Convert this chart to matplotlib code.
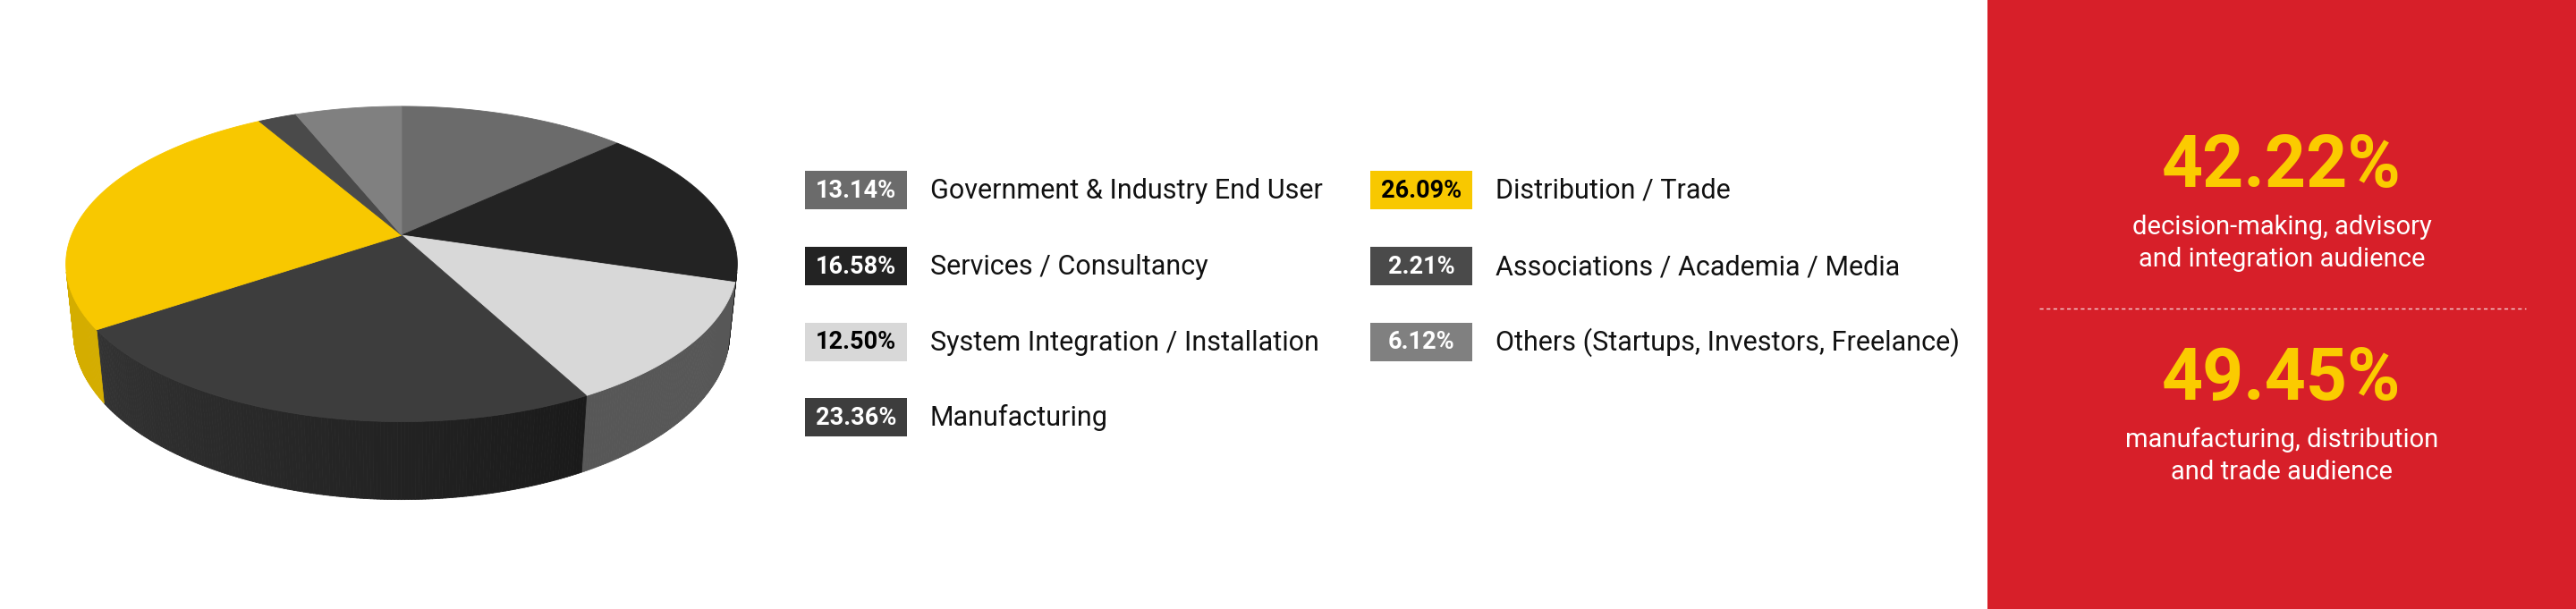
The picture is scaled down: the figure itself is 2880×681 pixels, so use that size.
import matplotlib.pyplot as plt
import numpy as np
from matplotlib.collections import PolyCollection
from matplotlib.patches import Rectangle, Polygon
from matplotlib.colors import to_rgb

# audience breakdown, clockwise from 12 o'clock
categories = ['Government & Industry End User', 'Services / Consultancy',
              'System Integration / Installation', 'Manufacturing',
              'Distribution / Trade', 'Associations / Academia / Media',
              'Others (Startups, Investors, Freelance)']
shares = [13.14, 16.58, 12.50, 23.36, 26.09, 2.21, 6.12]

top_colors = ['#6b6b6b', '#232323', '#d8d8d8', '#3d3d3d', '#f8c800', '#4a4a4a', '#808080']
side_start = ['#4a4a4a', '#1c1c1c', '#575757', '#1a1a1a', '#d4ad00', '#353535', '#5a5a5a']
side_end = ['#4a4a4a', '#1c1c1c', '#575757', '#333333', '#d4ad00', '#353535', '#5a5a5a']
label_colors = ['white', 'white', 'black', 'white', 'black', 'white', 'white']

summary_values = ['42.22%', '49.45%']
summary_lines = [['decision-making, advisory', 'and integration audience'],
                 ['manufacturing, distribution', 'and trade audience']]

RED = '#d71f29'
YELLOW = '#fbcb00'

# camera for the 3d pie
ELEV = np.radians(27.5)
DIST = 4.856
HEIGHT = 0.238
CX, CY, SCALE = 449, 263, 1792
cs, sn = np.cos(ELEV), np.sin(ELEV)


def project(theta, z):
    px = np.sin(theta)
    py = np.cos(theta)
    vx = px
    vy = py + DIST * cs
    vz = z - DIST * sn
    depth = vy * cs - vz * sn
    sx = vx / depth
    sy = (vy * sn + vz * cs) / depth
    return CX + sx * SCALE, CY - sy * SCALE


fig = plt.figure(figsize=(28.8, 6.81), dpi=100)
ax = fig.add_axes([0, 0, 1, 1])
ax.set_xlim(0, 2880)
ax.set_ylim(681, 0)
ax.axis('off')

bounds = np.concatenate([[0], np.cumsum(shares)]) / 100 * 2 * np.pi

# sides (only the front-facing part)
quads, qcolors = [], []
for i in range(len(shares)):
    a0, a1 = bounds[i], bounds[i + 1]
    n = max(int((a1 - a0) / np.radians(0.5)), 2)
    ts = np.linspace(a0, a1, n + 1)
    c0, c1 = np.array(to_rgb(side_start[i])), np.array(to_rgb(side_end[i]))
    for k in range(n):
        tm = 0.5 * (ts[k] + ts[k + 1])
        if -1 - DIST * cs * np.cos(tm) <= 0:
            continue
        p1 = project(ts[k], 0)
        p2 = project(ts[k + 1], 0)
        p3 = project(ts[k + 1], -HEIGHT)
        p4 = project(ts[k], -HEIGHT)
        quads.append([p1, p2, p3, p4])
        f = (tm - a0) / (a1 - a0)
        qcolors.append(c0 + (c1 - c0) * f)
ax.add_collection(PolyCollection(quads, facecolors=qcolors, edgecolors=qcolors,
                                 linewidths=0.6, zorder=1))

# top face
for i in range(len(shares)):
    ts = np.linspace(bounds[i], bounds[i + 1], 200)
    xs, ys = project(ts, 0)
    pts = [(CX, CY)] + list(zip(xs, ys))
    ax.add_patch(Polygon(pts, closed=True, facecolor=top_colors[i],
                         edgecolor=top_colors[i], linewidth=0.6, zorder=2))

# legend
row_y = [212.5, 297.5, 382, 466.5]
col_box_x = [900, 1532]
for i, (cat, val) in enumerate(zip(categories, shares)):
    col = 0 if i < 4 else 1
    row = i if i < 4 else i - 4
    bx, by = col_box_x[col], row_y[row]
    ax.add_patch(Rectangle((bx, by - 21.5), 114, 43, facecolor=top_colors[i],
                           edgecolor='none', zorder=3))
    ax.text(bx + 57, by + 1, f'{val:.2f}%', ha='center', va='center',
            fontsize=19.5, fontweight='bold', family='Roboto',
            color=label_colors[i], zorder=4)
    ax.text(bx + 140, by + 1, cat, ha='left', va='center', fontsize=22,
            family='Roboto', color='#111111', zorder=4)

# right-hand summary panel
ax.add_patch(Rectangle((2222, 0), 658, 681, facecolor=RED, edgecolor='none', zorder=0))
num_base = [209, 447.5]
for k in range(2):
    ax.text(2551, num_base[k], summary_values[k], ha='center', va='baseline',
            fontsize=58, fontweight='bold', family='Roboto', color=YELLOW)
    for j, line in enumerate(summary_lines[k]):
        ax.text(2551, num_base[k] + 52.5 + 36.5 * j, line, ha='center',
                va='baseline', fontsize=21, family='Roboto', color='white')

ax.plot([2280, 2824], [345, 345], color='white', alpha=0.8, linewidth=1,
        dashes=(3, 2.5))

fig.savefig('out.png', dpi=100, facecolor='white')
